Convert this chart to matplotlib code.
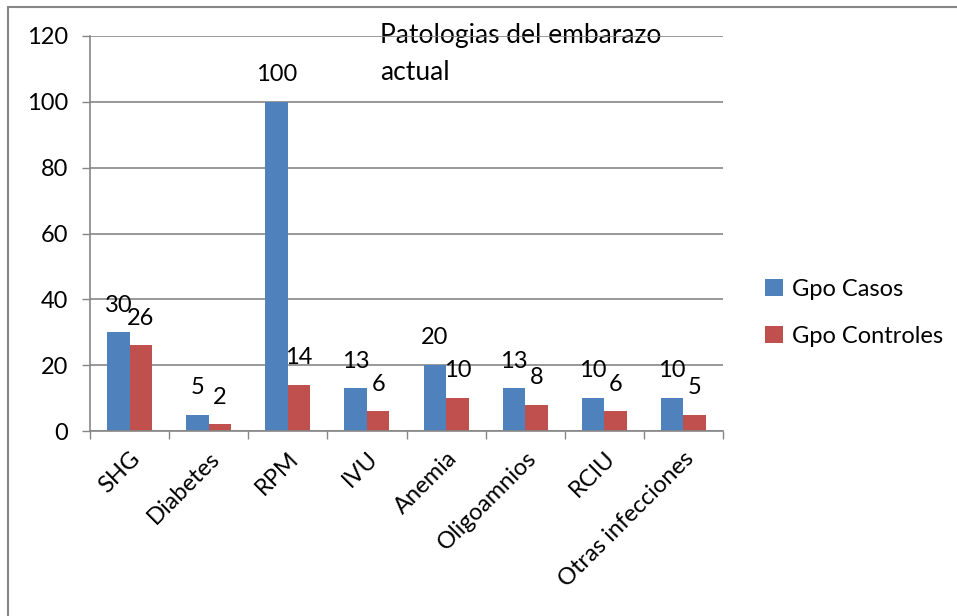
import numpy as np
import matplotlib.pyplot as plt
from matplotlib.patches import Rectangle

categorias = ['SHG', 'Diabetes', 'RPM', 'IVU', 'Anemia', 'Oligoamnios', 'RCIU', 'Otras infecciones']
gpo_casos = [30, 5, 100, 13, 20, 13, 10, 10]
gpo_controles = [26, 2, 14, 6, 10, 8, 6, 5]
y_ticks = [0, 20, 40, 60, 80, 100, 120]

azul = '#4F81BD'
rojo = '#C0504D'
gris = '#868686'

plt.rcParams['font.family'] = ['Lato', 'DejaVu Sans']
fs = 17

fig = plt.figure(figsize=(9.57, 6.16), dpi=100)
ax = fig.add_axes([90 / 957, 1 - 431 / 616, (723 - 90) / 957, (431 - 36) / 616])

x = np.arange(len(categorias))
w = 0.285
b1 = ax.bar(x - w / 2, gpo_casos, w, color=azul, label='Gpo Casos', zorder=2)
b2 = ax.bar(x + w / 2, gpo_controles, w, color=rojo, label='Gpo Controles', zorder=2)

# etiquetas de valores encima de cada barra
for barras in (b1, b2):
    for r in barras:
        ax.annotate(str(int(r.get_height())), (r.get_x() + r.get_width() / 2, r.get_height()),
                    xytext=(0, 12), textcoords='offset points', ha='center', va='bottom',
                    fontsize=fs, zorder=3)

ax.set_xlim(-0.5, len(categorias) - 0.5)
ax.set_ylim(0, 120)
ax.set_yticks(y_ticks)
ax.set_yticklabels([str(v) for v in y_ticks], fontsize=fs)
ax.tick_params(axis='y', length=6, width=1, color=gris, pad=10)

ax.set_xticks(np.arange(len(categorias) + 1) - 0.5, minor=False)
ax.set_xticklabels([])
ax.set_xticks(x, minor=True)
ax.set_xticklabels(categorias, minor=True, rotation=45, ha='right',
                   rotation_mode='anchor', fontsize=fs)
ax.tick_params(axis='x', which='major', length=6, width=1, color=gris)
ax.tick_params(axis='x', which='minor', length=0, pad=12)

ax.set_axisbelow(True)
ax.yaxis.grid(True, color=gris, linewidth=1.2)
for s in ['top', 'right']:
    ax.spines[s].set_visible(False)
for s in ['left', 'bottom']:
    ax.spines[s].set_color(gris)
    ax.spines[s].set_linewidth(1.2)

ax.text(380, 616 - 54, 'Patologias del embarazo\nactual', transform=None, fontsize=19,
        ha='left', va='center', zorder=0.1, linespacing=1.6)

ax.legend(loc='center left', bbox_to_anchor=(744 / 957, 1 - 313 / 616),
          bbox_transform=fig.transFigure, frameon=False, fontsize=fs,
          handlelength=0.75, handleheight=0.75, handletextpad=0.4, labelspacing=1.1)

fig.patches.append(Rectangle((8 / 957, -0.1), 1.2, 1.1 - 7 / 616, transform=fig.transFigure,
                             fill=False, edgecolor=gris, linewidth=1.5))

fig.savefig('out.png', dpi=100)
